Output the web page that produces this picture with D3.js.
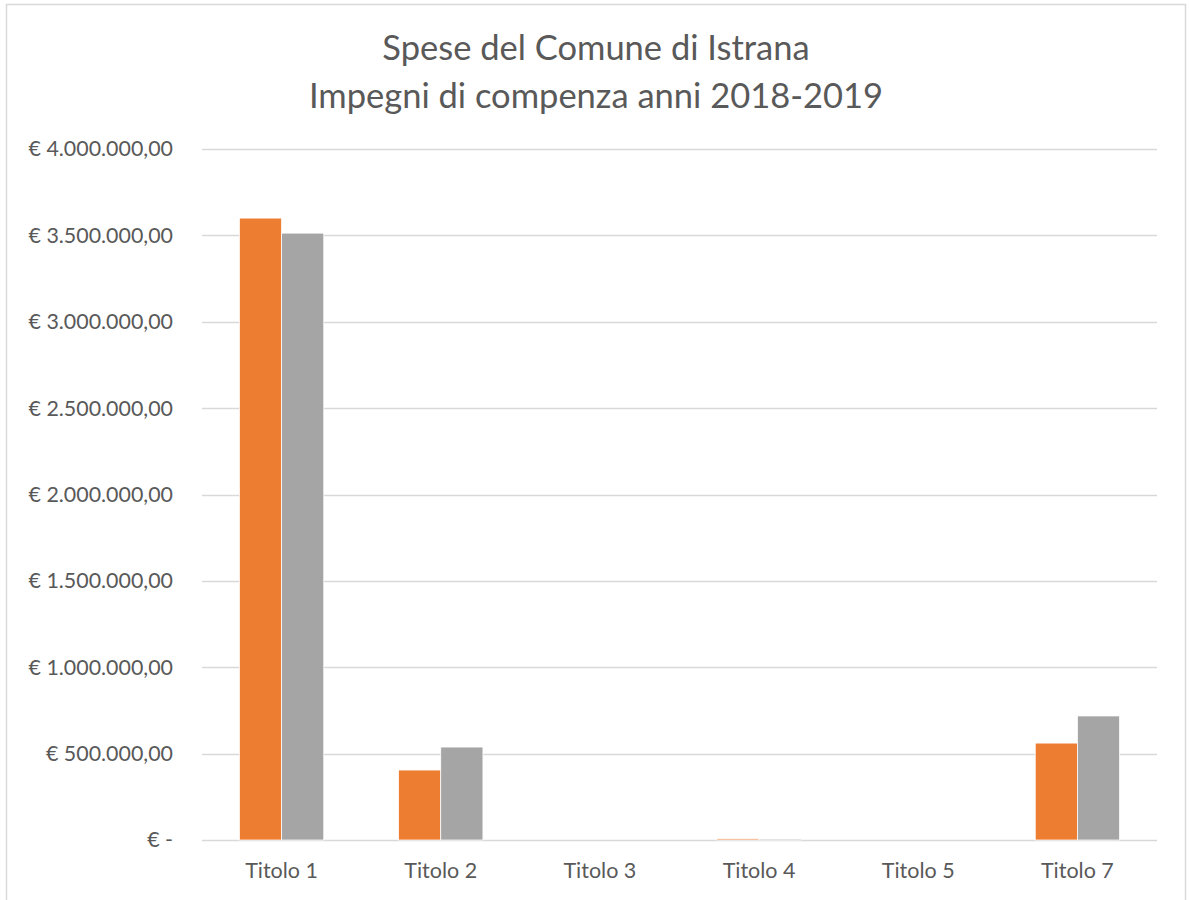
<!DOCTYPE html>
<html>
<head>
<meta charset="utf-8">
<script src="https://cdn.jsdelivr.net/npm/d3@7"></script>
<style>
  body { margin: 0; background: #fff; }
  text { font-family: Lato, "Open Sans", sans-serif; fill: #595959; }
</style>
</head>
<body>
<script>
// Data
const categories = ["Titolo 1", "Titolo 2", "Titolo 3", "Titolo 4", "Titolo 5", "Titolo 7"];
const series = ["2018", "2019"];
const values2018 = [3600000, 405000, 0, 7000, 0, 561000];
const values2019 = [3513000, 538000, 0, 6000, 0, 718000];
const yTicks = [0, 500000, 1000000, 1500000, 2000000, 2500000, 3000000, 3500000, 4000000];
const titleLines = ["Spese del Comune di Istrana", "Impegni di compenza anni 2018-2019"];

const colors = { "2018": "#ED7D31", "2019": "#A5A5A5" };

const width = 1189, height = 900;
const margin = { top: 149, right: 32, bottom: 60, left: 202 };

const svg = d3.select("body").append("svg")
  .attr("width", width)
  .attr("height", height);

// chart border
svg.append("rect")
  .attr("x", 6.5).attr("y", 4.5)
  .attr("width", 1179).attr("height", 910)
  .attr("fill", "none")
  .attr("stroke", "#d9d9d9")
  .attr("stroke-width", 1.5);

const x0 = d3.scaleBand()
  .domain(categories)
  .range([margin.left, width - margin.right])
  .paddingInner(0.47)
  .paddingOuter(0.235);

const x1 = d3.scaleBand()
  .domain(series)
  .range([0, x0.bandwidth()]);

const y = d3.scaleLinear()
  .domain([0, 4000000])
  .range([height - margin.bottom, margin.top]);

const fmt = v => v === 0 ? "€ -" :
  "€ " + d3.format(",.2f")(v).replace(/,/g, "#").replace(".", ",").replace(/#/g, ".");

// gridlines
svg.append("g")
  .selectAll("line")
  .data(yTicks)
  .join("line")
  .attr("x1", margin.left)
  .attr("x2", width - margin.right)
  .attr("y1", d => Math.round(y(d)) + 0.5)
  .attr("y2", d => Math.round(y(d)) + 0.5)
  .attr("stroke", "#d9d9d9")
  .attr("stroke-width", 1.5);

// y labels
svg.append("g")
  .selectAll("text")
  .data(yTicks)
  .join("text")
  .attr("x", 173)
  .attr("y", d => y(d))
  .attr("dy", "0.35em")
  .attr("text-anchor", "end")
  .attr("font-size", 21.4)
  .text(fmt);

// bars
const rows = categories.map((c, i) => ({ cat: c, vals: [values2018[i], values2019[i]] }));

svg.append("g")
  .selectAll("g")
  .data(rows)
  .join("g")
  .attr("transform", d => `translate(${x0(d.cat)},0)`)
  .selectAll("rect")
  .data(d => d.vals.map((v, j) => ({ key: series[j], v })))
  .join("rect")
  .attr("x", d => x1(d.key))
  .attr("width", x1.bandwidth())
  .attr("y", d => y(d.v))
  .attr("height", d => y(0) - y(d.v))
  .attr("fill", d => colors[d.key])
  .attr("stroke", "#fff")
  .attr("stroke-width", 0.75);

// x labels
svg.append("g")
  .selectAll("text")
  .data(categories)
  .join("text")
  .attr("x", d => x0(d) + x0.bandwidth() / 2)
  .attr("y", 878)
  .attr("text-anchor", "middle")
  .attr("font-size", 21.5)
  .text(d => d);

// title
svg.append("g")
  .selectAll("text")
  .data(titleLines)
  .join("text")
  .attr("x", 596)
  .attr("y", (d, i) => 60 + i * 48)
  .attr("text-anchor", "middle")
  .attr("font-size", 34.5)
  .text(d => d);
</script>
</body>
</html>
